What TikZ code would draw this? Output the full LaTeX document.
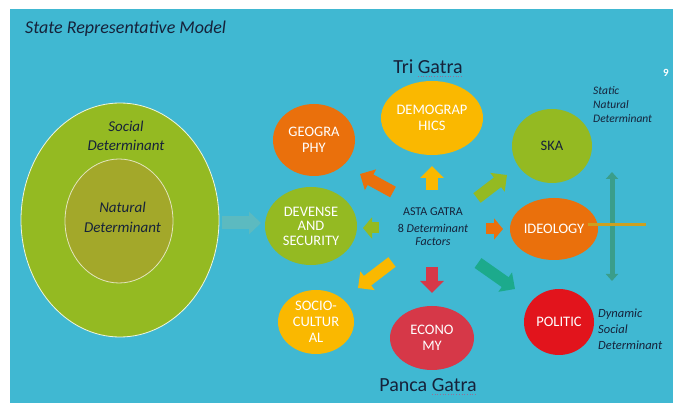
\documentclass[tikz,border=0pt]{standalone}
\usepackage{fontspec}
\setmainfont{Carlito}
\usetikzlibrary{shapes.geometric,arrows.meta}
\definecolor{bg}{RGB}{64,184,210}
\definecolor{navy}{RGB}{22,34,58}
\definecolor{lgreen}{RGB}{148,186,34}
\definecolor{olive}{RGB}{163,168,42}
\definecolor{orng}{RGB}{234,112,12}
\definecolor{yell}{RGB}{250,184,0}
\definecolor{rose}{RGB}{214,56,72}
\definecolor{bred}{RGB}{226,20,28}
\definecolor{teal}{RGB}{28,170,140}
\definecolor{faded}{RGB}{92,186,192}
\definecolor{vteal}{RGB}{58,158,138}
\definecolor{gold}{RGB}{204,160,32}
\definecolor{squig}{RGB}{150,110,150}
\begin{document}
\begin{tikzpicture}[x=1pt,y=-1pt,
  gatra/.style={ellipse, inner sep=0pt, text=white, align=center,
    font=\fontsize{14.5}{15.5}\selectfont},
  label/.style={text=navy, align=left, inner sep=0pt},
  blk/.style={line width=12pt, -{Triangle[width=23pt,length=12pt]}},
  smallblk/.style={line width=11pt, -{Triangle[width=21pt,length=9pt]}},
  squigline/.style={squig, line width=0.7pt, dotted}
]
\useasboundingbox (0,0) rectangle (673,403);
\fill[white] (0,0) rectangle (673,403);
\fill[bg] (10,9) rectangle (673,403);

% title
\node[anchor=base west, text=navy, inner sep=0pt, font=\fontsize{18}{21}\selectfont\itshape] (title) at (25,34) {State Representative Model};
\node[anchor=base, text=white, inner sep=0pt, font=\fontsize{11}{12}\selectfont\bfseries] (pg) at (666,77) {9};

% determinant ellipses
\node[ellipse, draw=white!85!lgreen, line width=0.8pt, fill=lgreen, minimum width=198pt, minimum height=234pt, inner sep=0pt] (social) at (120,220) {};
\node[ellipse, draw=white!70!olive, line width=0.8pt, fill=olive, minimum width=108pt, minimum height=124pt, inner sep=0pt] (natural) at (119,221) {};
\node[anchor=base, text=navy, align=center, inner sep=0pt, font=\fontsize{15}{19}\selectfont\itshape] (soctxt) at (126,151) {Social\\Determinant};
\node[anchor=base, text=navy, align=center, inner sep=0pt, font=\fontsize{15}{20}\selectfont\itshape] (nattxt) at (122.5,233) {Natural\\Determinant};

% gatra nodes
\node[gatra, fill=orng, minimum width=82pt, minimum height=72pt] (geo) at (314,140) {GEOGRA\\PHY};
\node[gatra, fill=yell, minimum width=102pt, minimum height=74pt] (demo) at (432,118) {DEMOGRAP\\HICS};
\node[gatra, fill=lgreen, minimum width=80pt, minimum height=74pt, text=navy] (ska) at (552,146) {SKA};
\node[gatra, fill=lgreen, minimum width=92pt, minimum height=78pt, font=\fontsize{14.5}{14.5}\selectfont] (def) at (311,226) {DEVENSE\\AND\\SECURITY};
\node[gatra, fill=orng, minimum width=88pt, minimum height=62pt] (ideo) at (554,229) {IDEOLOGY};
\node[gatra, fill=yell, minimum width=76pt, minimum height=64pt, font=\fontsize{14.5}{16}\selectfont] (socio) at (316,322) {SOCIO-\\CULTUR\\AL};
\node[gatra, fill=rose, minimum width=84pt, minimum height=64pt, font=\fontsize{14.5}{16}\selectfont] (eco) at (432,338) {ECONO\\MY};
\node[gatra, fill=bred, minimum width=70pt, minimum height=66pt] (pol) at (559,322) {POLITIC};

% centre text
\node[anchor=base, text=navy, inner sep=0pt, font=\fontsize{12}{14}\selectfont] (asta) at (433,216) {ASTA GATRA};
\node[anchor=base, text=navy, align=center, inner sep=0pt, font=\fontsize{12}{13.5}\selectfont] (factors) at (433,246) {8 \textit{Determinant}\\\textit{Factors}};

% group labels
\node[anchor=base, text=navy, inner sep=0pt, font=\fontsize{20}{24}\selectfont] (tri) at (428,74) {Tri Gatra};
\node[anchor=base, text=navy, inner sep=0pt, font=\fontsize{20}{24}\selectfont] (panca) at (428,392) {Panca Gatra};
\draw[squigline] ([xshift=-45pt,yshift=-2.5pt]tri.base east) -- ([yshift=-2.5pt]tri.base east);
\draw[squigline] ([xshift=-45pt,yshift=-2.5pt]panca.base east) -- ([yshift=-2.5pt]panca.base east);

\node[label, anchor=base west, font=\fontsize{11.5}{14}\selectfont\itshape] (static) at (593,123) {Static\\Natural\\Determinant};
\node[label, anchor=base west, font=\fontsize{12.5}{16}\selectfont\itshape] (dyn) at (598,350) {Dynamic\\Social\\Determinant};

% arrow coordinates
\coordinate (fa1) at (222,223);
\coordinate (fa2) at (261,223);
\coordinate (g1) at (393,192);
\coordinate (g2) at (360,174);
\coordinate (d1) at (432,190);
\coordinate (d2) at (432,166);
\coordinate (s1) at (477,198);
\coordinate (s2) at (507,175);
\coordinate (df1) at (379,228);
\coordinate (df2) at (363,228);
\coordinate (i1) at (486,229);
\coordinate (i2) at (503,229);
\coordinate (sc1) at (392,262);
\coordinate (sc2) at (358,288);
\coordinate (e1) at (432,267);
\coordinate (e2) at (432,293);
\coordinate (p1) at (478,263);
\coordinate (p2) at (515,289);
\coordinate (vt) at (612,172);
\coordinate (vb) at (612,281);
\coordinate (gl) at (646,225);

% arrows
\draw[faded, line width=13pt, -{Triangle[width=22pt,length=12pt]}] (fa1) -- (fa2);
\draw[blk, orng] (g1) -- (g2);
\draw[blk, yell] (d1) -- (d2);
\draw[blk, lgreen] (s1) -- (s2);
\draw[smallblk, lgreen] (df1) -- (df2);
\draw[smallblk, orng] (i1) -- (i2);
\draw[blk, yell] (sc1) -- (sc2);
\draw[blk, rose] (e1) -- (e2);
\draw[blk, teal] (p1) -- (p2);

\draw[vteal, line width=5pt, {Triangle[width=12pt,length=7pt]}-{Triangle[width=12pt,length=7pt]}] (vt) -- (vb);
\draw[gold, line width=3pt] ([xshift=-10pt,yshift=4pt]ideo.east) -- (gl);
\end{tikzpicture}
\end{document}
